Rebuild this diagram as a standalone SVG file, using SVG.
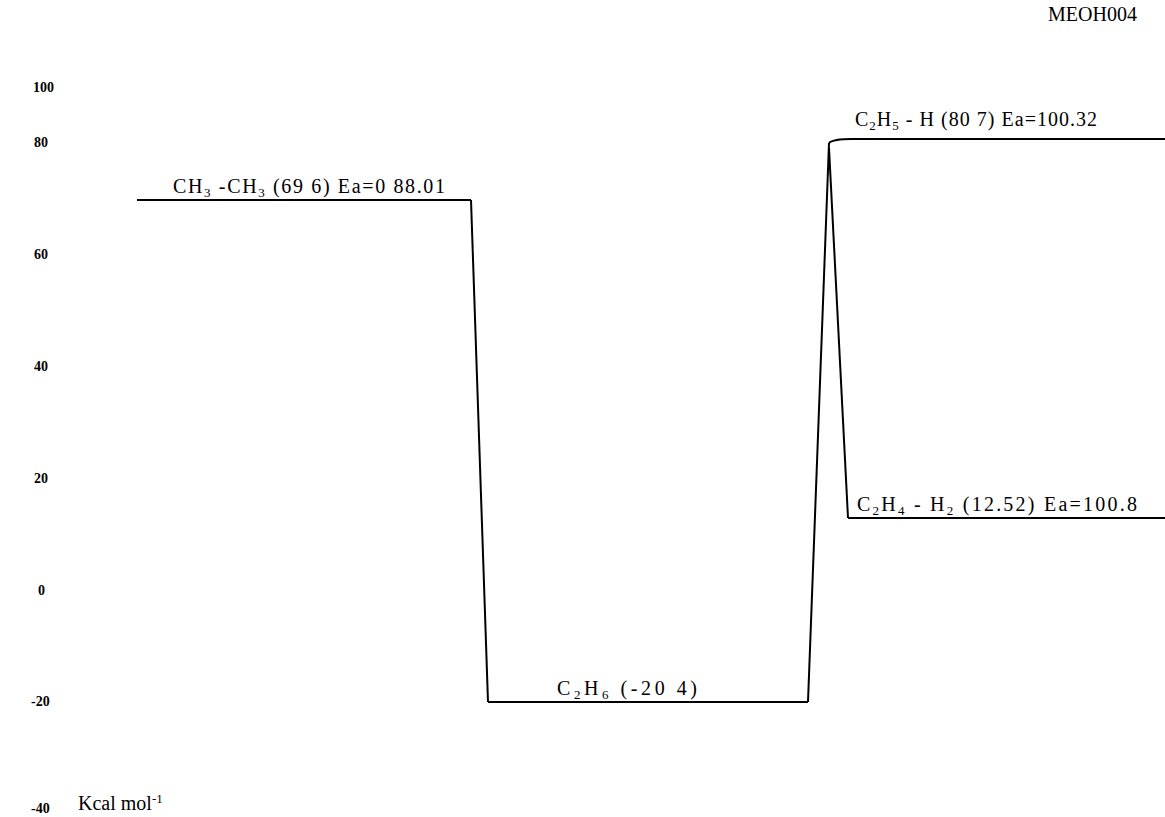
<svg xmlns="http://www.w3.org/2000/svg" width="1165" height="817" viewBox="0 0 1165 817">
<style>
.ln{fill:none;stroke:#000;stroke-width:2;stroke-linejoin:round}
.lbl{font-family:"Liberation Serif","Times New Roman",serif;font-size:20px;fill:#000}
.ax{font-family:"Liberation Serif","Times New Roman",serif;font-size:14px;font-weight:bold;fill:#000}
.sub{font-size:13px}
</style>
<rect width="1165" height="817" fill="#fff"/>
<g id="axis">
<text class="ax" x="33" y="92" font-weight="normal" font-size="13">100</text>
<text class="ax" x="34" y="147">80</text>
<text class="ax" x="34" y="259">60</text>
<text class="ax" x="34" y="371">40</text>
<text class="ax" x="34" y="483">20</text>
<text class="ax" x="38" y="595">0</text>
<text class="ax" x="31" y="706">-20</text>
<text class="ax" x="31" y="813">-40</text>
<text class="lbl" x="78" y="810" font-size="18">Kcal mol<tspan class="sub" dy="-7" font-size="11">-1</tspan></text>
<text class="lbl" x="1048" y="21" font-size="15">MEOH004</text>
</g>
<g id="node-ch3ch3">
<path class="ln" d="M137,200 L471,200"/>
<text class="lbl" x="173" y="193" textLength="272" lengthAdjust="spacing">CH<tspan class="sub" dy="4">3</tspan><tspan dy="-4"> -CH</tspan><tspan class="sub" dy="4">3</tspan><tspan dy="-4">  (69 6) Ea=0 88.01</tspan></text>
</g>
<g id="node-c2h6">
<path class="ln" d="M488,702 L808,702"/>
<text class="lbl" x="557" y="695" textLength="140" lengthAdjust="spacing">C<tspan class="sub" dy="4">2</tspan><tspan dy="-4">H</tspan><tspan class="sub" dy="4">6</tspan><tspan dy="-4">  (-20 4)</tspan></text>
</g>
<g id="node-c2h5h">
<path class="ln" d="M829,143 Q833,139 852,139 L1165,139"/>
<text class="lbl" x="855" y="126" textLength="242" lengthAdjust="spacing">C<tspan class="sub" dy="4">2</tspan><tspan dy="-4">H</tspan><tspan class="sub" dy="4">5</tspan><tspan dy="-4"> - H  (80 7) Ea=100.32</tspan></text>
</g>
<g id="node-c2h4h2">
<path class="ln" d="M848,518 L1165,518"/>
<text class="lbl" x="857" y="511" textLength="280" lengthAdjust="spacing">C<tspan class="sub" dy="4">2</tspan><tspan dy="-4">H</tspan><tspan class="sub" dy="4">4</tspan><tspan dy="-4"> - H</tspan><tspan class="sub" dy="4">2</tspan><tspan dy="-4">  (12.52) Ea=100.8</tspan></text>
</g>
<g id="connectors">
<path class="ln" d="M471,200 L488,702"/>
<path class="ln" d="M808,702 L829,143"/>
<path class="ln" d="M829,148 L848,518"/>
</g>
</svg>
